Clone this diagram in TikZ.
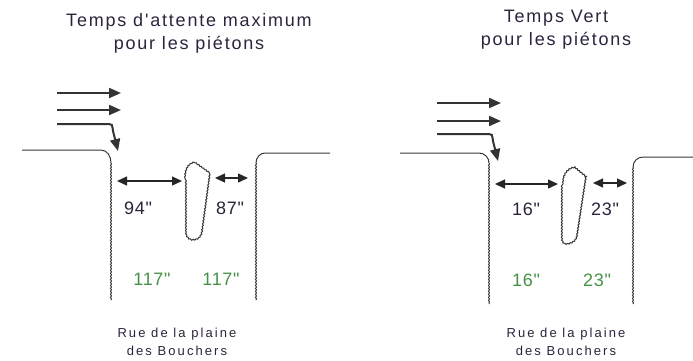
\documentclass[tikz,border=0pt]{standalone}
\usepackage{fontspec}
\setmainfont{Liberation Sans}[Ligatures=TeXOff]
\usetikzlibrary{arrows.meta, decorations.pathmorphing}
\definecolor{txtcol}{RGB}{45,35,60}
\definecolor{greencol}{RGB}{70,145,70}
\definecolor{curbcol}{RGB}{55,55,55}

\begin{document}
\begin{tikzpicture}[x=1pt, y=-1pt,
    curb/.style={curbcol, line width=1pt},
    wavy/.style={curb, decorate, decoration={snake, amplitude=0.5pt, segment length=3pt}},
    flow/.style={black!80, line width=2pt, -{Triangle[length=12pt, width=10pt]}},
    gap/.style={black!85, line width=1.3pt, {Triangle[length=10pt, width=9pt]}-{Triangle[length=10pt, width=9pt]}},
    title/.style={txtcol, align=center, font=\fontsize{18}{23}\selectfont\addfontfeature{LetterSpace=10}},
    time/.style={txtcol, font=\fontsize{18}{20}\selectfont\addfontfeature{LetterSpace=4}},
    green time/.style={time, text=greencol},
    street/.style={txtcol, align=center, font=\fontsize{13}{18}\selectfont\addfontfeature{LetterSpace=16}}]

    \useasboundingbox (0,0) rectangle (693,360);

    % 1. Left panel: titles
    \node[title] (titleL) at (189,33) {Temps d'attente maximum\\pour les piétons};

    % 2. Left panel: traffic arrows
    \draw[flow] (57,93) -- (121,93);
    \draw[flow] (57,110) -- (121,110);
    \draw[flow] (57,124) -- (109,124) .. controls (112,124) .. (113,131) -- (118,151);

    % 3. Left panel: curbs and island
    \coordinate (curbL1) at (111,181);
    \coordinate (curbL2) at (256,178);
    \draw[curb] (22,150) -- (101,150) to[out=0, in=90] (111,163);
    \draw[wavy] (111,163) -- (111,300);
    \draw[curb] (330,153) -- (265,153) to[out=180, in=90] (256,163);
    \draw[wavy] (256,163) -- (256,300);
    \draw[wavy] (185,178) .. controls (185,168) and (190,163) .. (195,163) -- (209,173)
        -- (201,232) .. controls (200,238) and (196,240) .. (192,240)
        .. controls (188,240) and (185,237) .. (185,232) -- cycle;
    \coordinate (islL1) at (185,181);
    \coordinate (islL2) at (208,178);

    % 4. Left panel: crossing distances and times
    \draw[gap] ([xshift=6pt]curbL1) -- ([xshift=-3pt]islL1);
    \draw[gap] ([xshift=7pt]islL2) -- ([xshift=-8pt]curbL2);
    \node[time] (tL1) at (138,208) {94"};
    \node[time] (tL2) at (230,208) {87"};
    \node[green time] (gL1) at (152,279) {117"};
    \node[green time] (gL2) at (221,279) {117"};
    \node[street] (streetL) at (177,342) {Rue de la plaine\\des Bouchers};

    % 5. Right panel: titles
    \node[title] (titleR) at (556,30) {Temps Vert\\pour les piétons};

    % 6. Right panel: traffic arrows
    \draw[flow] (437,103) -- (501,103);
    \draw[flow] (437,121) -- (501,121);
    \draw[flow] (437,134) -- (489,134) .. controls (492,134) .. (493,141) -- (498,161);

    % 7. Right panel: curbs and island
    \coordinate (curbR1) at (489,184);
    \coordinate (curbR2) at (633,183);
    \draw[curb] (400,153) -- (479,153) to[out=0, in=90] (489,163);
    \draw[wavy] (489,163) -- (489,304);
    \draw[curb] (693,157) -- (643,157) to[out=180, in=90] (633,167);
    \draw[wavy] (633,167) -- (633,304);
    \draw[wavy] (563,183) .. controls (563,173) and (570,168) .. (575,168) -- (587,178)
        -- (578,237) .. controls (577,243) and (571,245) .. (567,245)
        .. controls (564,245) and (563,242) .. (563,238) -- cycle;
    \coordinate (islR1) at (563,184);
    \coordinate (islR2) at (586,183);

    % 8. Right panel: crossing distances and times
    \draw[gap] ([xshift=6pt]curbR1) -- ([xshift=-5pt]islR1);
    \draw[gap] ([xshift=7pt]islR2) -- ([xshift=-6pt]curbR2);
    \node[time] (tR1) at (526,209) {16"};
    \node[time] (tR2) at (605,209) {23"};
    \node[green time] (gR1) at (526,280) {16"};
    \node[green time] (gR2) at (597,280) {23"};
    \node[street] (streetR) at (566,342) {Rue de la plaine\\des Bouchers};

\end{tikzpicture}
\end{document}
